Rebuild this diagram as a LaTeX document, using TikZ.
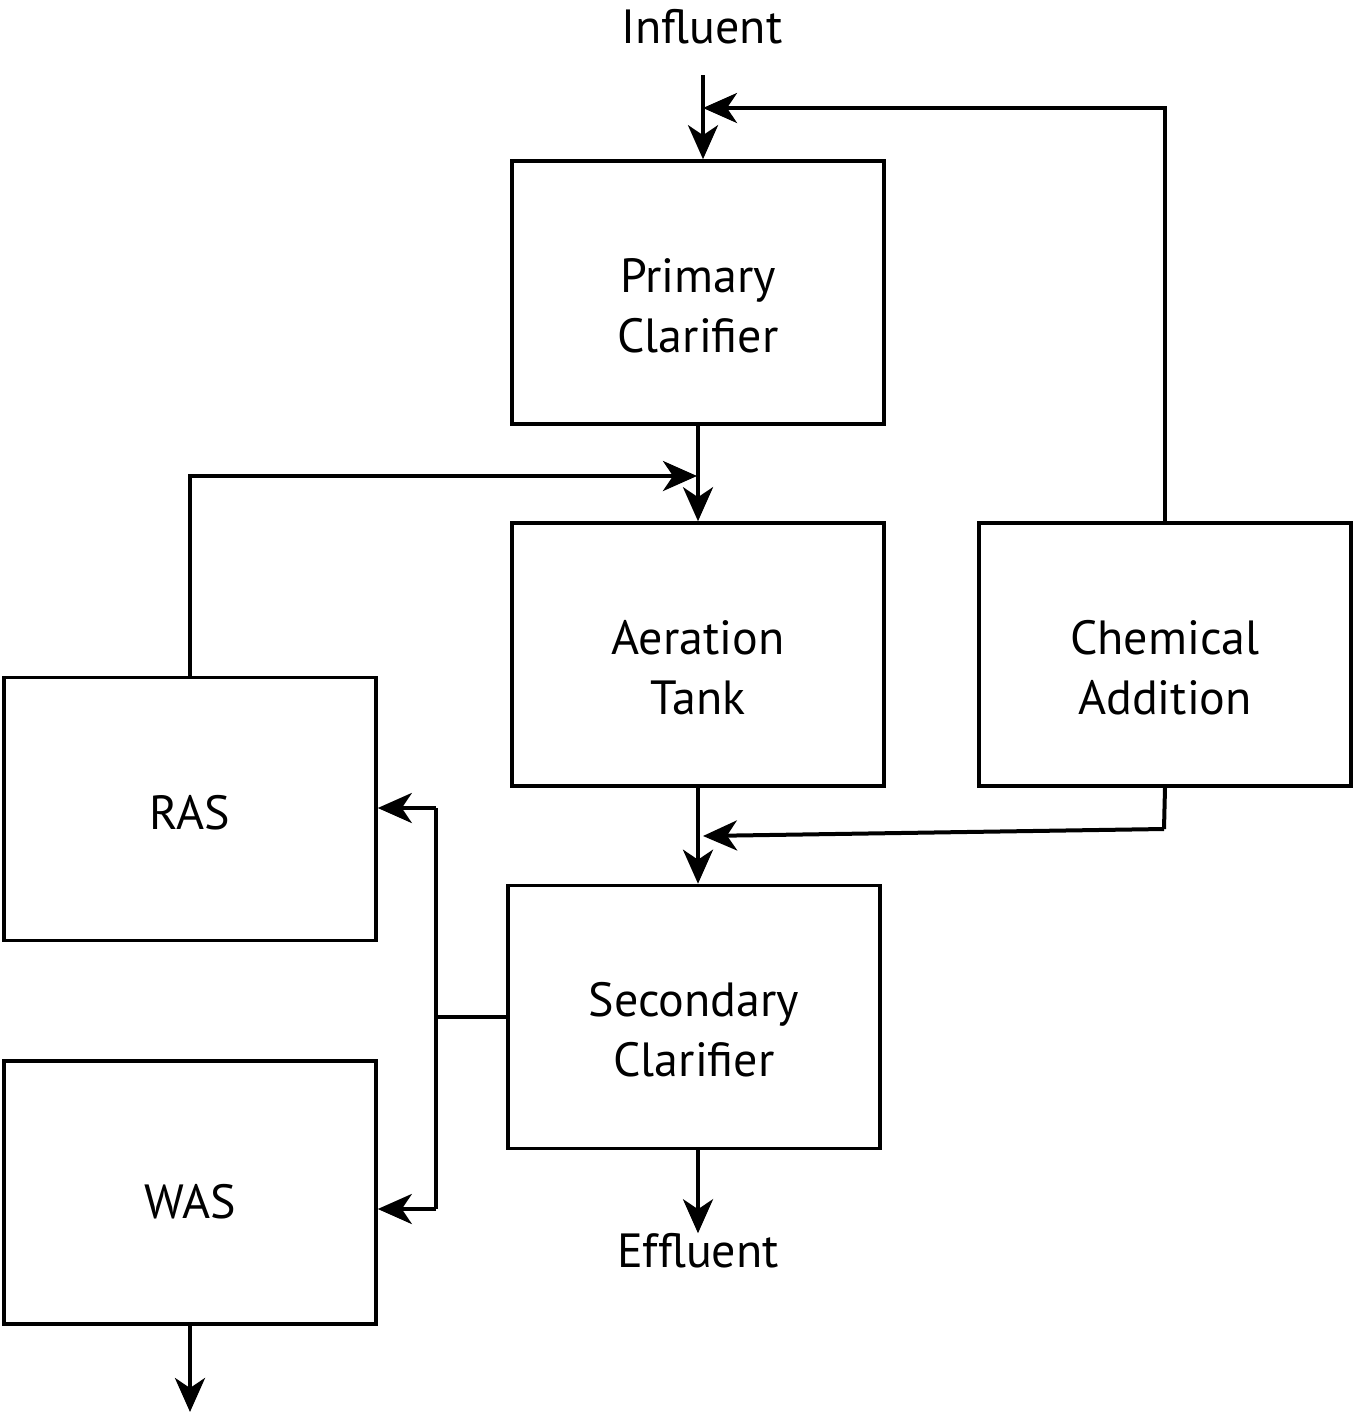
\documentclass[tikz,border=0pt]{standalone}
\usepackage{fontspec}
\setmainfont{PT Sans}
\usetikzlibrary{arrows.meta}
\begin{document}
\begin{tikzpicture}[x=0.5pt,y=-0.5pt,
  box/.style={draw,line width=1.8pt,minimum width=186pt,minimum height=131.5pt,inner sep=0pt},
  btxt/.style={inner sep=0pt,align=center,font=\fontsize{24pt}{30pt}\selectfont},
  lbl/.style={inner sep=0pt,font=\fontsize{24pt}{30pt}\selectfont},
  ln/.style={line width=2pt},
  arr/.style={ln,-{Stealth[length=17pt,width=15pt,inset=5pt]}}]
\useasboundingbox (0,0) rectangle (1355,1414);
\node[box,label={[btxt,yshift=-6.5pt]center:Primary\\Clarifier}] (prim) at (698,292.5) {};
\node[box,label={[btxt,yshift=-6.5pt]center:Aeration\\Tank}] (aer) at (698,654.5) {};
\node[box,label={[btxt,yshift=-6.5pt]center:Chemical\\Addition}] (chem) at (1165,654.5) {};
\node[box,label={[btxt,yshift=-6.5pt]center:Secondary\\Clarifier}] (sec) at (694,1017) {};
\node[box,label={[btxt,yshift=-2pt]center:RAS}] (ras) at (190,809) {};
\node[box,label={[btxt,yshift=-4.5pt]center:WAS}] (was) at (190,1192.5) {};
\node[lbl] (inf) at (702,27) {Influent};
\node[lbl] (eff) at (698,1251) {Effluent};
\coordinate (inA) at (703,75);
\coordinate (cj) at (703,108);
\coordinate (rj) at (697,476);
\coordinate (cb) at (1164,829);
\coordinate (cj2) at (703,836);
\coordinate (bt) at (436,808);
\coordinate (bb) at (436,1209);
\coordinate (wo) at (190,1412);
\draw[arr] (inA) -- (inA |- prim.north);
\draw[arr] (chem.north) |- (cj);
\draw[arr] (prim.south) -- (aer.north);
\draw[arr] (ras.north) |- (rj);
\draw[arr] (aer.south) -- (aer.south |- sec.north);
\draw[ln] (chem.south) -- (cb);
\draw[arr] (cb) -- (cj2);
\draw[arr] (sec.south -| eff) -- (eff.north);
\draw[ln] (sec.west) -- (sec.west -| bt);
\draw[ln] (bt) -- (bb);
\draw[arr] (bt) -- (bt -| ras.east);
\draw[arr] (bb) -- (bb -| was.east);
\draw[arr] (was.south) -- (wo);
\end{tikzpicture}
\end{document}
